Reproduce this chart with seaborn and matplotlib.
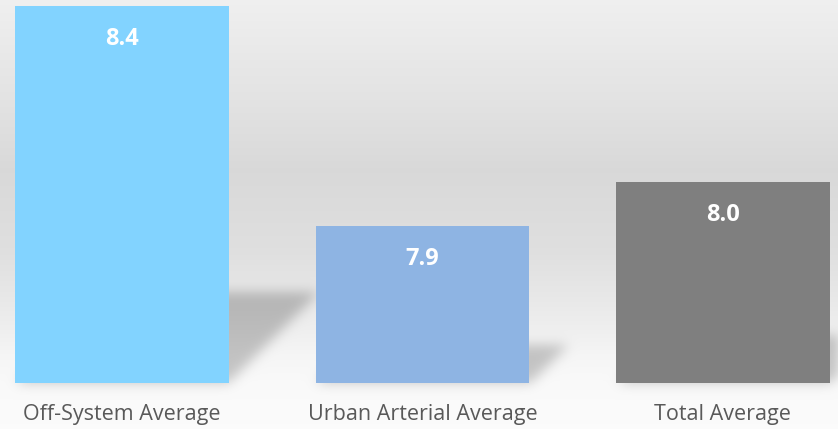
import numpy as np
import pandas as pd
import matplotlib
matplotlib.use("Agg")
import matplotlib.pyplot as plt
from matplotlib.path import Path
import seaborn as sns

categories = ["Off-System Average", "Urban Arterial Average", "Total Average"]
averages = [8.4, 7.9, 8.0]
value_labels = ["8.4", "7.9", "8.0"]
bar_colors = ["#82D3FF", "#8EB4E3", "#7F7F7F"]

sns.set_theme(style="white")
plt.rcParams["font.family"] = ["Open Sans", "DejaVu Sans"]

W, H = 838, 429
BASE_PX = 383  # baseline row of the plot area, counted from the top

fig = plt.figure(figsize=(W / 100, H / 100), dpi=100)
bg_ax = fig.add_axes([0, 0, 1, 1], zorder=0)
bg_ax.set_axis_off()
ax = fig.add_axes([0, (H - BASE_PX) / H, 1, BASE_PX / H], zorder=1)
ax.patch.set_alpha(0)

df = pd.DataFrame({"category": categories, "average": averages})
sns.barplot(data=df, x="category", y="average", hue="category",
            palette=bar_colors, width=0.71, saturation=1, legend=False,
            ax=ax, zorder=3, edgecolor="none", linewidth=0)

ax.set_xlim(-0.406, 2.383)
ax.set_ylim(7.543, 8.413)
for s in ax.spines.values():
    s.set_visible(False)
ax.set_yticks([])
ax.set_xlabel("")
ax.set_ylabel("")
ax.tick_params(axis="x", length=0, pad=15, labelsize=15.5, labelcolor="#595959")

for i, (v, lab) in enumerate(zip(averages, value_labels)):
    ax.annotate(lab, xy=(i, v), xytext=(0, -24), textcoords="offset points",
                ha="center", va="center", color="white", fontsize=17,
                fontweight="bold", zorder=5)

# background: soft vertical gradient
stops_y = np.array([0, 100, 170, 250, 300, 333, 355, 383, 429])
stops_v = np.array([0.94, 0.89, 0.85, 0.875, 0.912, 0.94, 0.962, 0.978, 0.985])
col = np.interp(np.arange(H) + 0.5, stops_y, stops_v)
img = np.repeat(col[:, None], W, axis=1)

# cast shadows of the bars, falling back and to the right
fig.canvas.draw()
yy, xx = np.mgrid[0:H, 0:W]
pts = np.column_stack([xx.ravel() + 0.5, yy.ravel() + 0.5])
mask = np.zeros(H * W)
ymin = ax.get_ylim()[0]
for i, v in enumerate(averages):
    (xl, yb), (xr, yt) = ax.transData.transform([(i - 0.355, ymin), (i + 0.355, v)])
    yb_img, yt_img = H - yb, H - yt
    sh = 0.24 * (yb_img - yt_img)
    dx = sh
    poly = Path([(xl, yb_img), (xr, yb_img), (xr + dx, yb_img - sh),
                 (xl + dx, yb_img - sh), (xl, yb_img)])
    mask = np.maximum(mask, poly.contains_points(pts).astype(float))
mask = mask.reshape(H, W)

sigma = 6.0
k = np.arange(-18, 19)
kern = np.exp(-0.5 * (k / sigma) ** 2)
kern /= kern.sum()
mask = np.apply_along_axis(lambda r: np.convolve(r, kern, mode="same"), 1, mask)
mask = np.apply_along_axis(lambda c: np.convolve(c, kern, mode="same"), 0, mask)

img = img - 0.2 * mask
rgb = np.clip(np.dstack([img, img, img]), 0, 1)
bg_ax.imshow(rgb, extent=[0, W, H, 0], origin="upper", aspect="auto",
             interpolation="nearest")
bg_ax.set_xlim(0, W)
bg_ax.set_ylim(H, 0)

fig.savefig("out.png", dpi=100)
